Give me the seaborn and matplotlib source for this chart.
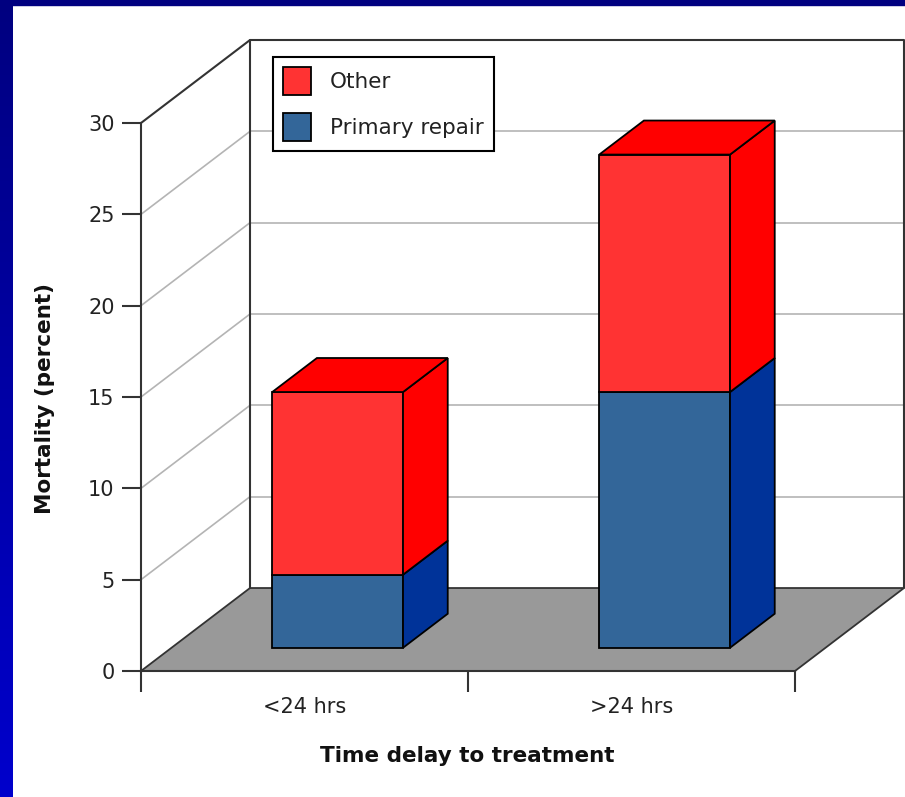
import numpy as np
import pandas as pd
import seaborn as sns
import matplotlib.pyplot as plt
from matplotlib.patches import Polygon, Patch, Rectangle
from matplotlib.colors import LinearSegmentedColormap

categories = ["<24 hrs", ">24 hrs"]
primary_repair = [4, 14]
other = [10, 13]
y_ticks = [0, 5, 10, 15, 20, 25, 30]

df = pd.DataFrame({"delay": categories, "primary": primary_repair, "other": other})

sns.set_style("white")
plt.rcParams["font.family"] = ["DejaVu Sans"]

fig = plt.figure(figsize=(9.05, 7.97), dpi=100)
fig.patch.set_facecolor("white")

# blue frame of the slide
edge = fig.add_axes([0, 0, 12 / 905, 1])
grad = np.linspace(0, 1, 256).reshape(-1, 1)
edge.imshow(grad, aspect="auto", origin="lower",
            cmap=LinearSegmentedColormap.from_list("frame", ["#0000CC", "#000080"]))
edge.axis("off")
fig.add_artist(Rectangle((0, 1 - 5 / 797), 1, 5 / 797, transform=fig.transFigure,
                         color="#000080", zorder=5))

ax = fig.add_axes([141 / 905, 126 / 797, 654 / 905, 548 / 797])
ax.set_facecolor("none")

# depth of the 3d box (category units, value units)
DX = 109 / 327
DY = 83 / 18.27
front = 0.28   # bar front face position in the depth
depth = 0.41   # bar depth
fx, fy = DX * front + 0.008, DY * front
bdx, bdy = DX * depth, DY * depth

line_col = "#333333"
grid_col = "#b4b4b4"
x0, x1 = -0.5, len(categories) - 0.5

# floor
ax.add_patch(Polygon([(x0, 0), (x1, 0), (x1 + DX, DY), (x0 + DX, DY)],
                     fc="#999999", ec=line_col, lw=1.3, zorder=1, clip_on=False))

# walls grid
for v in y_ticks[1:-1]:
    ax.plot([x0 + DX, x1 + DX], [v + DY, v + DY], color=grid_col, lw=1.2, zorder=0.5, clip_on=False)
    ax.plot([x0, x0 + DX], [v, v + DY], color=grid_col, lw=1.2, zorder=0.5, clip_on=False)
top = y_ticks[-1]
ax.plot([x0, x0 + DX], [top, top + DY], color=line_col, lw=1.5, zorder=1, clip_on=False)
ax.plot([x0 + DX, x0 + DX, x1 + DX, x1 + DX], [DY, top + DY, top + DY, DY],
        color=line_col, lw=1.5, zorder=1, clip_on=False)

# front faces
n0 = len(ax.patches)
sns.barplot(data=df, x="delay", y="primary", color="#336699", saturation=1, width=0.4,
            edgecolor="black", linewidth=1.3, errorbar=None, ax=ax, zorder=3)
blue_bars = list(ax.patches)[n0:]
n1 = len(ax.patches)
sns.barplot(data=df, x="delay", y="other", color="#FF3333", saturation=1, width=0.4,
            edgecolor="black", linewidth=1.3, errorbar=None, ax=ax, zorder=3)
red_bars = list(ax.patches)[n1:]

for p in blue_bars:
    p.set_x(p.get_x() + fx)
    p.set_y(p.get_y() + fy)
    p.set_clip_on(False)
for p, base in zip(red_bars, primary_repair):
    p.set_x(p.get_x() + fx)
    p.set_y(base + fy)
    p.set_clip_on(False)


def side_face(p, color):
    xa, ya, w, h = p.get_x(), p.get_y(), p.get_width(), p.get_height()
    xb = xa + w
    ax.add_patch(Polygon([(xb, ya), (xb + bdx, ya + bdy), (xb + bdx, ya + h + bdy), (xb, ya + h)],
                         fc=color, ec="black", lw=1.3, zorder=3, clip_on=False))


def top_face(p, color):
    xa, ya, w, h = p.get_x(), p.get_y(), p.get_width(), p.get_height()
    yt = ya + h
    ax.add_patch(Polygon([(xa, yt), (xa + bdx, yt + bdy), (xa + w + bdx, yt + bdy), (xa + w, yt)],
                         fc=color, ec="black", lw=1.3, zorder=3, clip_on=False))


for p in blue_bars:
    side_face(p, "#003399")
for p in red_bars:
    side_face(p, "#FF0000")
    top_face(p, "#FF0000")

ax.set_xlim(x0, x1)
ax.set_ylim(0, top)
ax.set_xlabel("")
ax.set_ylabel("")

for s in ["top", "right"]:
    ax.spines[s].set_visible(False)
for s in ["left", "bottom"]:
    ax.spines[s].set_color(line_col)
    ax.spines[s].set_linewidth(1.5)
    ax.spines[s].set_zorder(2)

ax.set_yticks(y_ticks)
ax.tick_params(axis="y", length=14, width=1.5, color=line_col, labelsize=15, pad=5,
               labelcolor="#222222", left=True)
ax.set_xticks(np.arange(len(categories) + 1) - 0.5, labels=[""] * (len(categories) + 1))
ax.set_xticks(np.arange(len(categories)), labels=categories, minor=True)
ax.tick_params(axis="x", which="major", length=15, width=1.5, color=line_col, bottom=True)
ax.tick_params(axis="x", which="minor", length=0, pad=19, labelsize=15, labelcolor="#222222")

fig.text(45 / 905, 1 - 399 / 797, "Mortality (percent)", rotation=90, ha="center", va="center",
         fontsize=15.5, fontweight="bold", color="#111111")
fig.text(467 / 905, 1 - 756 / 797, "Time delay to treatment", ha="center", va="center",
         fontsize=15.5, fontweight="bold", color="#111111")

handles = [Patch(fc="#FF3333", ec="black", lw=1.3, label="Other"),
           Patch(fc="#336699", ec="black", lw=1.3, label="Primary repair")]
leg = ax.legend(handles=handles, loc="upper left", bbox_to_anchor=(273 / 905, 1 - 57 / 797),
                bbox_transform=fig.transFigure, frameon=True, fancybox=False, edgecolor="black",
                framealpha=1, fontsize=15.5, handlelength=1.3, handleheight=1.63,
                handletextpad=0.88, labelspacing=0.84, borderpad=0.47, borderaxespad=0)
leg.get_frame().set_linewidth(1.5)
leg.set_zorder(6)
for t in leg.get_texts():
    t.set_color("#222222")

fig.savefig("out.png", dpi=100)
